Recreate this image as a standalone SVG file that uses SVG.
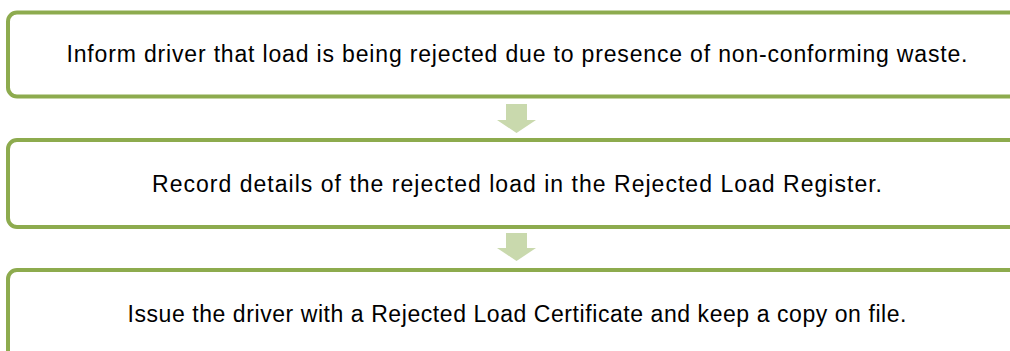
<svg xmlns="http://www.w3.org/2000/svg" width="1010" height="351" viewBox="0 0 1010 351">
<style>
.box{fill:#ffffff;stroke:#8dab4e;stroke-width:4}
.lbl{font-family:"Liberation Sans",Arial,sans-serif;font-size:23px;fill:#000000;text-anchor:middle}
.arr{fill:#c9d9ad}
</style>
<rect width="1010" height="351" fill="#ffffff"/>
<g id="connectors">
<polygon class="arr" points="506,104 527,104 527,120 536,120 516.5,133 497,120 506,120"/>
<polygon class="arr" points="506,233 527,233 527,248 536,248 516.5,261 497,248 506,248"/>
</g>
<g id="node1">
<rect class="box" x="8" y="12.5" width="1018" height="84" rx="9"/>
<text class="lbl" x="517" y="62" textLength="901">Inform driver that load is being rejected due to presence of non-conforming waste.</text>
</g>
<g id="node2">
<rect class="box" x="8" y="140" width="1018" height="87" rx="9"/>
<text class="lbl" x="517" y="192" textLength="730">Record details of the rejected load in the Rejected Load Register.</text>
</g>
<g id="node3">
<rect class="box" x="8" y="270" width="1018" height="90" rx="9"/>
<text class="lbl" x="517" y="322" textLength="779">Issue the driver with a Rejected Load Certificate and keep a copy on file.</text>
</g>
</svg>
